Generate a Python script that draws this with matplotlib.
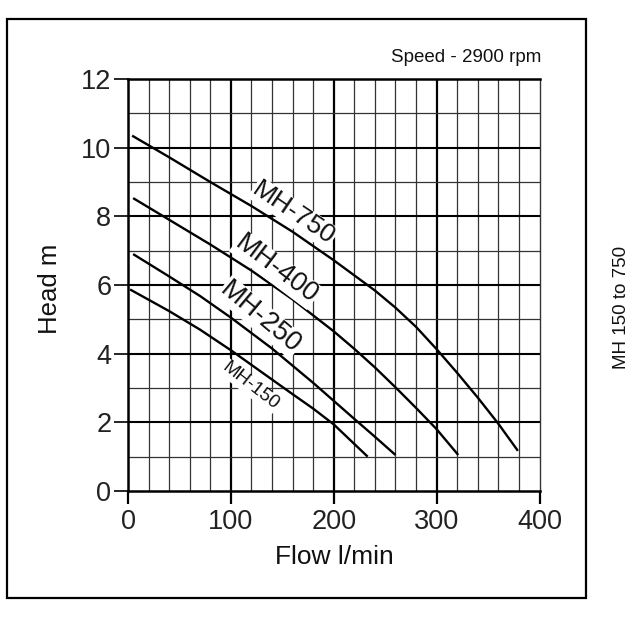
import matplotlib
matplotlib.use("Agg")
import matplotlib.pyplot as plt
from matplotlib.patches import Rectangle

plt.rcParams['font.family'] = ['Liberation Sans', 'DejaVu Sans']

# Data
q750 = [4, 40, 80, 120, 160, 200, 240, 260, 280, 300, 320, 340, 360, 379]
h750 = [10.35, 9.72, 9.0, 8.3, 7.55, 6.72, 5.84, 5.34, 4.78, 4.13, 3.44, 2.72, 1.96, 1.17]
q400 = [5, 40, 80, 120, 160, 200, 220, 240, 260, 280, 300, 321]
h400 = [8.53, 7.9, 7.18, 6.42, 5.58, 4.65, 4.14, 3.6, 3.02, 2.42, 1.8, 1.05]
q250 = [5, 40, 70, 100, 140, 180, 220, 240, 260]
h250 = [6.9, 6.25, 5.68, 5.05, 4.15, 3.15, 2.1, 1.58, 1.05]
q150 = [2, 40, 70, 100, 130, 160, 180, 200, 220, 233]
h150 = [5.87, 5.24, 4.7, 4.1, 3.46, 2.82, 2.4, 1.94, 1.37, 1.0]

curve_names = ["MH-750", "MH-400", "MH-250", "MH-150"]
x_ticks = [0, 100, 200, 300, 400]
y_ticks = [0, 2, 4, 6, 8, 10, 12]

fig = plt.figure(figsize=(6.4, 6.4), dpi=100)
ax = fig.add_axes([128/640, 1-491/640, (539.5-128)/640, (491-79)/640])
ax.set_xlim(0, 400)
ax.set_ylim(0, 12)

# grid
for x in range(20, 400, 20):
    if x % 100 == 0:
        ax.axvline(x, color='black', lw=1.6, zorder=1)
    else:
        ax.axvline(x, color='#333333', lw=0.9, zorder=1)
for y in range(1, 12):
    if y % 2 == 0:
        ax.axhline(y, color='black', lw=1.5, zorder=1)
    else:
        ax.axhline(y, color='#333333', lw=0.9, zorder=1)

for s in ['left', 'bottom', 'top']:
    ax.spines[s].set_linewidth(1.8)
    ax.spines[s].set_color('black')
ax.spines['right'].set_linewidth(1.0)
ax.spines['right'].set_color('#333333')

ax.set_xticks(x_ticks)
ax.set_yticks(y_ticks)
ax.tick_params(axis='x', length=9, width=1.6, pad=4, labelsize=19.5, colors='black', labelcolor='#222222')
ax.tick_params(axis='y', length=10, width=1.2, pad=2, labelsize=19.5, colors='black', labelcolor='#222222')

fig.text(334/640, 1-557/640, "Flow l/min", ha='center', va='center', fontsize=19, color='#111111')
fig.text(50/640, 1-289/640, "Head m", rotation=90, ha='center', va='center', fontsize=18.5, color='#111111')

for q, h in [(q750, h750), (q400, h400), (q250, h250), (q150, h150)]:
    ax.plot(q, h, color='black', lw=1.7, zorder=3, solid_capstyle='butt', solid_joinstyle='round')

bb = dict(facecolor='white', edgecolor='none', pad=0.5)
ax.text(161, 8.09, curve_names[0], rotation=-34, fontsize=19, ha='center', va='center',
        bbox=bb, zorder=4, color='#111111', rotation_mode='anchor')
ax.text(144, 6.45, curve_names[1], rotation=-37, fontsize=19.5, ha='center', va='center',
        bbox=bb, zorder=4, color='#111111', rotation_mode='anchor')
ax.text(129, 5.06, curve_names[2], rotation=-40, fontsize=19.5, ha='center', va='center',
        bbox=bb, zorder=4, color='#111111', rotation_mode='anchor')
ax.text(119, 3.05, curve_names[3], rotation=-38, fontsize=13.5, ha='center', va='center',
        bbox=bb, zorder=4, color='#111111', rotation_mode='anchor')

fig.text(541/640, 1-58/640, "Speed - 2900 rpm", ha='right', va='center', fontsize=13.5, color='#111111')
fig.text(621/640, 1-307/640, "MH 150 to 750", rotation=90, ha='center', va='center', fontsize=13.5, color='#111111')

fig.patches.append(Rectangle((6.7/640, 1-598/640), (586-6.7)/640, (598-19)/640,
                             transform=fig.transFigure, fill=False, edgecolor='black', lw=1.6))

fig.savefig("out.png", dpi=100)
